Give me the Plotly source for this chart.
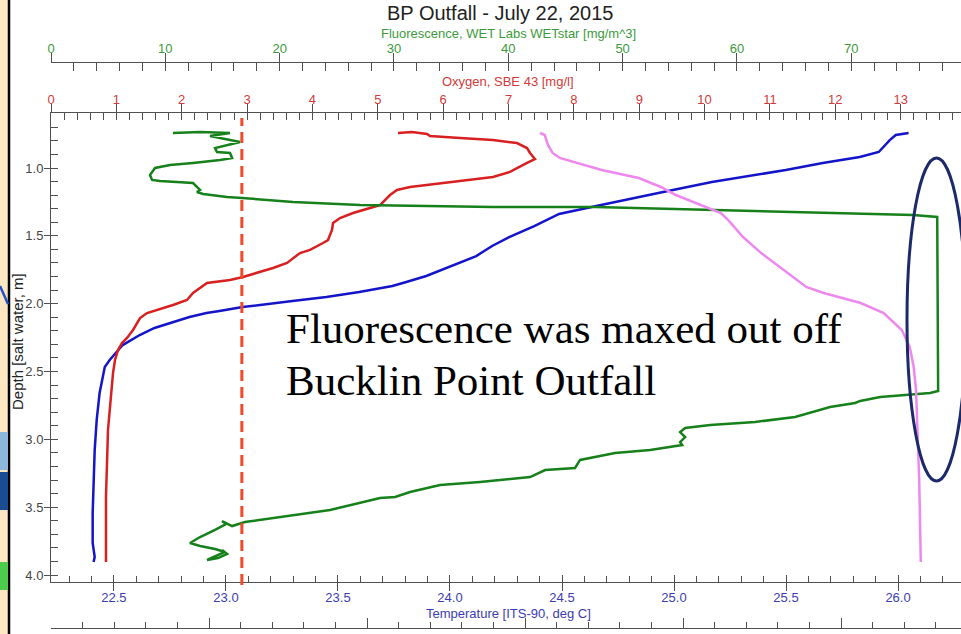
import plotly.graph_objects as go

# ---------------- data ----------------
# Temperature [ITS-90, deg C] vs depth [m]
temp_depth = [0.742,0.757,0.794,0.882,0.919,0.963,1.015,1.059,1.103,1.170,1.214,1.273,1.339,1.428,1.509,1.575,1.649,1.700,1.752,1.796,1.840,1.870,1.914,1.951,1.980,2.010,2.025,2.054,2.069,2.098,2.135,2.179,2.231,2.305,2.415,2.467,2.658,2.857,3.079,3.300,3.543,3.764,3.867,3.904]
temp_vals = [26.047,25.990,25.963,25.914,25.829,25.664,25.499,25.334,25.169,24.973,24.839,24.674,24.487,24.376,24.264,24.188,24.117,24.041,23.965,23.894,23.805,23.743,23.595,23.448,23.297,23.150,23.074,22.971,22.913,22.837,22.762,22.681,22.615,22.539,22.481,22.459,22.436,22.423,22.414,22.409,22.405,22.405,22.414,22.409]

# Oxygen, SBE 43 [mg/l]
oxy_depth = [0.742,0.735,0.749,0.764,0.779,0.794,0.816,0.853,0.889,0.934,0.963,1.029,1.066,1.088,1.111,1.140,1.162,1.199,1.273,1.295,1.332,1.369,1.405,1.457,1.531,1.553,1.604,1.627,1.700,1.737,1.774,1.803,1.826,1.848,1.921,1.973,2.010,2.069,2.106,2.194,2.253,2.290,2.342,2.415,2.511,2.688,2.931,3.174,3.425,3.668,3.904]
oxy_vals = [5.309,5.523,5.753,5.799,6.258,6.762,7.130,7.283,7.329,7.405,7.283,7.023,6.762,6.411,5.998,5.493,5.294,5.187,5.034,4.881,4.621,4.422,4.315,4.299,4.238,4.162,3.963,3.810,3.611,3.397,3.152,2.938,2.739,2.387,2.173,2.081,1.867,1.469,1.362,1.255,1.163,1.086,1.025,0.979,0.949,0.918,0.872,0.857,0.841,0.841,0.841]

# Fluorescence, WET Labs WETstar [mg/m^3]
fl_depth = [0.742,0.735,0.742,0.764,0.808,0.830,0.853,0.882,0.889,0.926,0.941,0.963,0.978,1.000,1.052,1.088,1.096,1.111,1.162,1.177,1.192,1.214,1.221,1.251,1.273,1.280,1.287,1.287,1.310,1.332,1.346,1.361,2.644,2.658,2.688,2.717,2.732,2.762,2.835,2.872,2.894,2.916,2.946,2.983,3.020,3.042,3.079,3.101,3.115,3.152,3.211,3.226,3.278,3.314,3.337,3.388,3.425,3.432,3.521,3.572,3.609,3.639,3.602,3.624,3.668,3.720,3.764,3.786,3.808,3.830,3.860,3.889,3.875,3.845,3.816]
fl_vals = [10.67,13.04,15.66,13.91,16.54,15.40,14.35,14.52,15.66,15.84,14.79,12.42,10.41,9.10,8.66,8.84,9.54,12.42,13.04,12.77,13.30,15.40,16.71,21.17,27.03,32.90,38.67,47.59,57.92,67.63,75.41,77.52,77.60,76.90,72.53,70.78,70.34,68.15,65.09,61.59,57.66,55.47,55.03,55.47,55.03,55.21,52.41,49.34,48.47,46.28,45.84,43.22,41.91,37.53,34.03,31.41,30.10,28.78,24.41,20.03,16.97,15.84,14.96,15.31,14.35,13.04,12.16,13.04,14.35,15.22,14.35,13.65,14.61,15.40,14.96]

# Salinity (pink, bottom axis whose labels are cut off)
sal_depth = [0.742,0.757,0.830,0.889,0.926,0.956,1.015,1.074,1.140,1.199,1.273,1.332,1.383,1.509,1.627,1.730,1.877,1.921,1.995,2.069,2.194,2.319,2.467,2.636,2.931,3.300,3.595,3.904]
sal_vals = [26.19,26.25,26.29,26.35,26.44,26.61,26.97,27.44,27.72,27.91,28.24,28.48,28.57,28.76,28.99,29.23,29.56,29.78,30.25,30.54,30.77,30.87,30.92,30.95,30.97,30.99,31.00,31.01]

oxygen_threshold = 2.92  # dashed reference line (mg/l)

title_text = "BP Outfall - July 22, 2015"
fl_title = "Fluorescence, WET Labs WETstar [mg/m^3]"
oxy_title = "Oxygen, SBE 43 [mg/l]"
temp_title = "Temperature [ITS-90, deg C]"
depth_title = "Depth [salt water, m]"
note_line1 = "Fluorescence was maxed out off"
note_line2 = "Bucklin Point Outfall"

# ---------------- layout helpers ----------------
W, H = 961, 634
def px(x):
    return x / W
def py(y):
    return 1 - y / H

SANS = "Liberation Sans, Arial, sans-serif"
SERIF = "Liberation Serif, Times New Roman, serif"
AX = "#505050"
BLUE, RED, GREEN, PINK = "#1414C8", "#D82020", "#16801A", "#EE88EE"
BLUE_T, RED_T, GREEN_T = "#3C3CB4", "#D03A3A", "#3C9A3C"

xdom = [px(51), 1.0]
ydom = [py(582), py(113)]

fig = go.Figure()
fig.add_trace(go.Scatter(x=temp_vals, y=temp_depth, mode="lines", xaxis="x", yaxis="y",
                         line=dict(color=BLUE, width=2.5), showlegend=False))
fig.add_trace(go.Scatter(x=oxy_vals, y=oxy_depth, mode="lines", xaxis="x2", yaxis="y",
                         line=dict(color=RED, width=2.5), showlegend=False))
fig.add_trace(go.Scatter(x=fl_vals, y=fl_depth, mode="lines", xaxis="x3", yaxis="y",
                         line=dict(color=GREEN, width=2.5), showlegend=False))
fig.add_trace(go.Scatter(x=sal_vals, y=sal_depth, mode="lines", xaxis="x4", yaxis="y",
                         line=dict(color=PINK, width=2.5), showlegend=False))
# empty traces so that tick-duplicate axes get drawn
for xa, ya in [("x5", "y"), ("x6", "y"), ("x7", "y"), ("x", "y2")]:
    fig.add_trace(go.Scatter(x=[], y=[], xaxis=xa, yaxis=ya, showlegend=False, hoverinfo="skip"))

temp_range = [22.219, 26.281]
oxy_range = [0, 13.923]
fl_range = [0, 79.6]
sal_range = [20, 31.519]
depth_range = [4.0515, 0.5946]

common = dict(showgrid=False, zeroline=False, linecolor=AX, tickcolor=AX, linewidth=1, tickwidth=1)

fig.update_layout(
    width=W, height=H, template="none",
    margin=dict(l=0, r=0, t=0, b=0),
    paper_bgcolor="white", plot_bgcolor="white",
    # temperature (bottom)
    xaxis=dict(domain=xdom, anchor="y", side="bottom", range=temp_range, dtick=0.5, tick0=0,
               tickformat=".1f", ticks="inside", ticklen=7, showline=True, ticklabelstandoff=3,
               tickfont=dict(family=SANS, size=13, color=BLUE_T),
               minor=dict(dtick=0.1, ticks="inside", ticklen=6, tickcolor=AX), **common),
    xaxis5=dict(domain=xdom, overlaying="x", anchor="y", side="bottom", range=temp_range, dtick=0.5,
                tick0=0, ticks="outside", ticklen=8, showticklabels=False, showline=False, **common),
    # oxygen (top, on plot edge)
    xaxis2=dict(domain=xdom, overlaying="x", anchor="y", side="top", range=oxy_range, dtick=1, tick0=0,
                ticks="inside", ticklen=7, showline=True, ticklabelstandoff=3,
                tickfont=dict(family=SANS, size=13, color=RED_T),
                minor=dict(dtick=0.2, ticks="inside", ticklen=7, tickcolor=AX), **common),
    xaxis6=dict(domain=xdom, overlaying="x", anchor="y", side="top", range=oxy_range, dtick=1, tick0=0,
                ticks="outside", ticklen=8, showticklabels=False, showline=False, **common),
    # fluorescence (top, free)
    xaxis3=dict(domain=xdom, overlaying="x", anchor="free", position=py(62), side="top", range=fl_range,
                dtick=10, tick0=0, ticks="inside", ticklen=8, showline=True, ticklabelstandoff=4,
                tickfont=dict(family=SANS, size=13, color=GREEN_T),
                minor=dict(dtick=2, ticks="inside", ticklen=8, tickcolor=AX), **common),
    xaxis7=dict(domain=xdom, overlaying="x", anchor="free", position=py(62), side="top", range=fl_range,
                dtick=10, tick0=0, ticks="outside", ticklen=9, showticklabels=False, showline=False, **common),
    # salinity (bottom, free, labels off-page)
    xaxis4=dict(domain=xdom, overlaying="x", anchor="free", position=py(628), side="bottom", range=sal_range,
                dtick=2, tick0=20, ticks="inside", ticklen=10, showline=True, showticklabels=False,
                minor=dict(dtick=0.4, ticks="inside", ticklen=6, tickcolor=AX), **common),
    # depth
    yaxis=dict(domain=ydom, anchor="x", range=depth_range, dtick=0.5, tick0=0, tickformat=".1f",
               ticks="inside", ticklen=7, showline=True, ticklabelstandoff=4,
               tickfont=dict(family=SANS, size=13, color="#454545"),
               minor=dict(dtick=0.1, ticks="inside", ticklen=7, tickcolor=AX), **common),
    yaxis2=dict(domain=ydom, overlaying="y", anchor="x", side="left", range=depth_range, dtick=0.5, tick0=0,
                ticks="outside", ticklen=6, showticklabels=False, showline=False, **common),
)

annotations = [
    dict(text=title_text, x=px(500), y=py(13), font=dict(family=SANS, size=20, color="#222222")),
    dict(text=fl_title, x=px(508), y=py(33), font=dict(family=SANS, size=13, color=GREEN_T)),
    dict(text=oxy_title, x=px(508), y=py(82), font=dict(family=SANS, size=13, color=RED_T)),
    dict(text=temp_title, x=px(508), y=py(613), font=dict(family=SANS, size=13, color=BLUE_T)),
    dict(text=depth_title, x=px(17), y=py(342), textangle=-90, font=dict(family=SANS, size=15, color="#222222")),
    dict(text=note_line1, x=px(284), y=py(328), xanchor="left", font=dict(family=SERIF, size=43, color="black")),
    dict(text=note_line2, x=px(284), y=py(380), xanchor="left", font=dict(family=SERIF, size=43, color="black")),
]
for a in annotations:
    a.setdefault("xanchor", "center")
    fig.add_annotation(xref="paper", yref="paper", yanchor="middle", showarrow=False, **a)

shapes = [
    # left strip from the underlying slide
    dict(type="rect", xref="paper", yref="paper", x0=px(0), x1=px(8), y0=0, y1=1,
         fillcolor="#FCE7C2", line=dict(width=0), layer="below"),
    dict(type="line", xref="paper", yref="paper", x0=px(9), x1=px(9), y0=0, y1=1,
         line=dict(color="black", width=2.5)),
    dict(type="line", xref="paper", yref="paper", x0=px(0), x1=px(8), y0=py(286), y1=py(304),
         line=dict(color="#2850C8", width=2.5)),
    dict(type="rect", xref="paper", yref="paper", x0=px(0), x1=px(8), y0=py(470), y1=py(432),
         fillcolor="#8DB8DC", line=dict(width=0)),
    dict(type="rect", xref="paper", yref="paper", x0=px(0), x1=px(8), y0=py(510), y1=py(472),
         fillcolor="#1A4C94", line=dict(width=0)),
    dict(type="rect", xref="paper", yref="paper", x0=px(0), x1=px(8), y0=py(590), y1=py(562),
         fillcolor="#4CCB4C", line=dict(width=0)),
    # dashed oxygen reference line
    dict(type="line", xref="x2", yref="paper", x0=oxygen_threshold, x1=oxygen_threshold,
         y0=py(585), y1=py(118), line=dict(color="#F04A2A", width=3, dash="11px,6px")),
    # highlight ellipse
    dict(type="circle", xref="paper", yref="paper", x0=px(907), x1=px(966), y0=py(481), y1=py(158),
         line=dict(color="#1C2A6A", width=3)),
]
for s in shapes:
    fig.add_shape(**s)

fig.write_html("out.html")
